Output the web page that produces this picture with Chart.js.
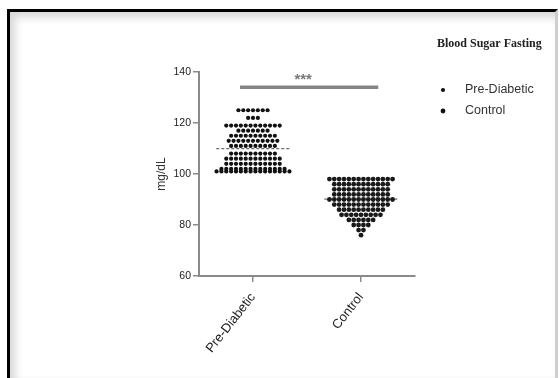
<!DOCTYPE html>
<html><head><meta charset="utf-8">
<script src="https://cdn.jsdelivr.net/npm/chart.js@4/dist/chart.umd.min.js"></script>
<style>
html,body{margin:0;padding:0;background:#fff;width:559px;height:378px;overflow:hidden}
#frame{position:absolute;left:7px;top:9px;width:545px;height:366px;border-left:3px solid #000;border-top:3px solid #000;border-right:3px solid #cfcfcf;box-shadow:inset 5px 5px 8px rgba(0,0,0,0.16)}
canvas{position:absolute;left:0;top:0}
</style></head>
<body><div id="frame"></div><canvas id="c" width="559" height="378"></canvas>
<script>
// ---- data ----
const categories = ['Pre-Diabetic', 'Control'];
const preDiabetic = [
  125,125,125,125,125,125,125,
  122,122,122,
  119,119,119,119,119,119,119,119,119,119,119,119,
  117,117,117,117,117,117,117,
  115,115,115,115,115,115,115,115,115,115,
  113,113,113,113,113,113,113,113,113,113,113,
  111,111,111,111,111,111,111,111,111,111,
  108,108,108,108,108,108,108,108,108,108,
  106,106,106,106,106,106,106,106,106,106,106,106,
  104,104,104,104,104,104,104,104,104,104,104,104,
  102,102,102,102,102,102,102,102,102,102,102,102,102,102,
  101,101,101,101,101,101,101,101,101,101,101,101,101,101,101,101
];
const control = [
  98,98,98,98,98,98,98,98,98,98,98,98,98,98,
  96,96,96,96,96,96,96,96,96,96,96,96,
  94,94,94,94,94,94,94,94,94,94,94,94,
  92,92,92,92,92,92,92,92,92,92,92,92,
  90,90,90,90,90,90,90,90,90,90,90,90,90,90,
  88,88,88,88,88,88,88,88,88,88,88,88,
  86,86,86,86,86,86,86,86,86,86,
  84,84,84,84,84,84,84,84,84,
  82,82,82,82,82,82,
  80,80,80,80,
  78,78,
  76
];
const yTicks = [60, 80, 100, 120, 140];
const yTitle = 'mg/dL';
const legendTitle = 'Blood Sugar Fasting';
const sigLabel = '***';
const sigSpan = [0.88, 2.16];
const sigLevel = 134;

// ---- layout helpers (swarm spreading of equal values) ----
function swarm(values, center, step) {
  const rows = new Map();
  values.forEach(v => { if (!rows.has(v)) rows.set(v, []); rows.get(v).push(v); });
  const pts = [];
  rows.forEach(r => {
    const n = r.length;
    r.forEach((v, i) => pts.push({ x: center + (i - (n - 1) / 2) * step, y: v }));
  });
  return pts;
}
const mean = a => a.reduce((s, v) => s + v, 0) / a.length;
const STEP = 0.045, HALF = 0.34;
const m1 = mean(preDiabetic), m2 = mean(control);

const axisColor = '#8a8a8a';

const overlay = {
  id: 'overlay',
  afterDraw(chart) {
    const ctx = chart.ctx, xs = chart.scales.x, ys = chart.scales.y;
    ctx.save();
    // significance stars
    ctx.fillStyle = '#7a7a7a';
    ctx.font = 'bold 15px "Liberation Sans", Arial, sans-serif';
    ctx.textAlign = 'center'; ctx.textBaseline = 'middle';
    ctx.fillText(sigLabel, xs.getPixelForValue((sigSpan[0] + sigSpan[1]) / 2) - 6, ys.getPixelForValue(sigLevel) - 7);
    // legend
    ctx.textAlign = 'left';
    ctx.fillStyle = '#222';
    ctx.font = 'bold 12px "Liberation Serif", "Times New Roman", serif';
    ctx.fillText(legendTitle, 437, 44);
    const items = chart.data.datasets.filter(d => d.legend);
    items.forEach((d, i) => {
      const y = 90 + i * 21;
      ctx.fillStyle = '#111';
      ctx.beginPath(); ctx.arc(443, y, d.pointRadius, 0, Math.PI * 2); ctx.fill();
      ctx.fillStyle = '#333';
      ctx.font = '12.5px "Liberation Sans", Arial, sans-serif';
      ctx.fillText(d.label, 465, y);
    });
    ctx.restore();
  }
};

new Chart(document.getElementById('c'), {
  type: 'scatter',
  data: {
    datasets: [
      { label: categories[0], legend: true, data: swarm(preDiabetic, 1, STEP), pointRadius: 2.1, backgroundColor: '#111', borderColor: '#111', borderWidth: 0 },
      { label: categories[1], legend: true, data: swarm(control, 2, STEP), pointRadius: 2.4, backgroundColor: '#1a1a1a', borderColor: '#000', borderWidth: 0 },
      { label: 'mean1', data: [{ x: 1 - HALF, y: m1 }, { x: 1 + HALF, y: m1 }], showLine: true, pointRadius: 0, borderColor: '#6d6d6d', borderWidth: 1.3, borderDash: [3, 2] },
      { label: 'mean2', data: [{ x: 2 - HALF, y: m2 }, { x: 2 + HALF, y: m2 }], showLine: true, pointRadius: 0, borderColor: '#6d6d6d', borderWidth: 1.3, borderDash: [3, 2] },
      { label: 'sig', data: [{ x: sigSpan[0], y: sigLevel }, { x: sigSpan[1], y: sigLevel }], showLine: true, pointRadius: 0, borderColor: '#858585', borderWidth: 3.5 }
    ]
  },
  options: {
    responsive: false, animation: false,
    layout: { padding: { left: 150, top: 72, right: 144, bottom: 0 } },
    plugins: { legend: { display: false }, tooltip: { enabled: false } },
    scales: {
      x: {
        type: 'linear', min: 0.5, max: 2.5,
        afterBuildTicks: s => { s.ticks = [{ value: 1 }, { value: 2 }]; },
        afterFit: s => { s.height = 102; },
        ticks: { autoSkip: false, minRotation: 52, maxRotation: 52, padding: 8, color: '#222',
          font: { size: 13, family: '"Liberation Sans", Arial, sans-serif' },
          callback: v => categories[v - 1] },
        grid: { drawOnChartArea: false, drawTicks: true, tickLength: 6, color: axisColor, lineWidth: 1.5 },
        border: { color: axisColor, width: 2 }
      },
      y: {
        min: 60, max: 140,
        afterBuildTicks: s => { s.ticks = yTicks.map(v => ({ value: v })); },
        afterFit: s => { s.width = 49; },
        ticks: { padding: 2, color: '#222', font: { size: 10.5, family: '"Liberation Sans", Arial, sans-serif' } },
        grid: { drawOnChartArea: false, drawTicks: true, tickLength: 6, color: axisColor, lineWidth: 1.5 },
        border: { color: axisColor, width: 2 },
        title: { display: true, text: yTitle, color: '#333', padding: 4, font: { size: 12, family: '"Liberation Sans", Arial, sans-serif' } }
      }
    }
  },
  plugins: [overlay]
});
</script>
</body></html>
